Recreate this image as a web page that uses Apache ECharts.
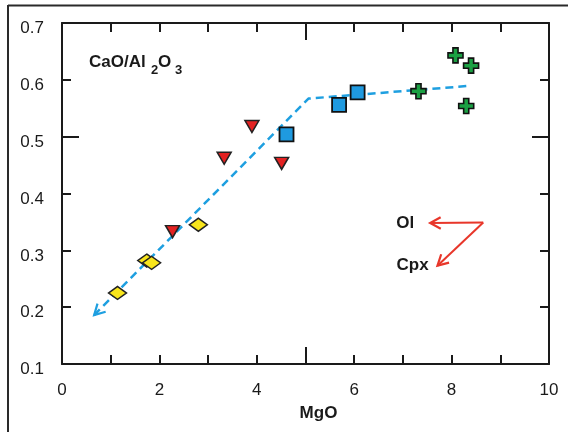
<!DOCTYPE html>
<html>
<head>
<meta charset="utf-8">
<script src="https://cdn.jsdelivr.net/npm/echarts@6/dist/echarts.min.js"></script>
<style>html,body{margin:0;padding:0;background:#fff}#c{width:568px;height:432px}</style>
</head>
<body>
<div id="c"></div>
<script>
// Data (MgO, CaO/Al2O3)
var diamonds = [[1.14, 0.225], [1.74, 0.282], [1.84, 0.278], [2.80, 0.345]];
var triangles = [[2.27, 0.333], [3.33, 0.462], [3.90, 0.518], [4.51, 0.453]];
var squares = [[4.61, 0.504], [5.69, 0.556], [6.07, 0.578]];
var crosses = [[7.32, 0.580], [8.08, 0.643], [8.40, 0.625], [8.30, 0.554]];
var trendLine = [[0.66, 0.186], [5.06, 0.567], [8.31, 0.589]];
var trendHead = [[1.30, 0.241, 0.66, 0.186]];
var redArrows = [[8.65, 0.349, 7.56, 0.348], [8.65, 0.349, 7.71, 0.273]];
var annotations = [[7.06, 0.346, 'Ol'], [7.21, 0.272, 'Cpx']];
var xTicks = [0, 2, 4, 6, 8, 10];
var yRange = [0.1, 0.7];
var longTicks = [[5, 0.5]]; // longer tick marks on x (MgO = 5) and y (0.5)

var FONT = '"Liberation Sans", Arial, sans-serif';
var INK = '#1a1a1a';

function arrowRender(color, drawShaft) {
  return function (params, api) {
    var p1 = api.coord([api.value(0), api.value(1)]);
    var p2 = api.coord([api.value(2), api.value(3)]);
    var ang = Math.atan2(p2[1] - p1[1], p2[0] - p1[0]);
    var L = 12, a = 0.5;
    var w1 = [p2[0] - L * Math.cos(ang - a), p2[1] - L * Math.sin(ang - a)];
    var w2 = [p2[0] - L * Math.cos(ang + a), p2[1] - L * Math.sin(ang + a)];
    var children = [];
    if (drawShaft) {
      children.push({type: 'line', shape: {x1: p1[0], y1: p1[1], x2: p2[0], y2: p2[1]},
        style: {stroke: color, lineWidth: 2}});
    }
    children.push({type: 'polyline', shape: {points: [w1, p2, w2]},
      style: {stroke: color, lineWidth: 2.2, fill: null}});
    return {type: 'group', children: children};
  };
}

function longTickRender(params, api) {
  var cs = params.coordSys;
  var p = api.coord([api.value(0), api.value(1)]);
  var L = 17, st = {stroke: INK, lineWidth: 2};
  var top = cs.y, bot = cs.y + cs.height, lft = cs.x, rgt = cs.x + cs.width;
  var xs = Math.round(p[0]), ys = Math.round(p[1]);
  return {type: 'group', children: [
    {type: 'line', shape: {x1: xs, y1: bot, x2: xs, y2: bot - L}, style: st},
    {type: 'line', shape: {x1: xs, y1: top, x2: xs, y2: top + L}, style: st},
    {type: 'line', shape: {x1: lft, y1: ys, x2: lft + L, y2: ys}, style: st},
    {type: 'line', shape: {x1: rgt, y1: ys, x2: rgt - L, y2: ys}, style: st}
  ]};
}

var plus = 'path://M3.3,0 H6.7 V3.3 H10 V6.7 H6.7 V10 H3.3 V6.7 H0 V3.3 H3.3 Z';

function mkX(pos, labels) {
  return {
    type: 'value', min: 0, max: 10, position: pos, interval: 1,
    axisLine: {show: true, onZero: false, lineStyle: {color: INK, width: 2}},
    axisTick: {show: true, inside: true, length: 9, lineStyle: {color: INK, width: 2}},
    axisLabel: labels ? {show: true, fontFamily: FONT, fontSize: 17, color: INK, margin: 18,
      formatter: function (v) { return xTicks.indexOf(v) >= 0 ? String(v) : ''; }} : {show: false},
    splitLine: {show: false}
  };
}
function mkY(pos, labels) {
  return {
    type: 'value', min: yRange[0], max: yRange[1], position: pos, interval: 0.1,
    axisLine: {show: true, onZero: false, lineStyle: {color: INK, width: 2}},
    axisTick: {show: true, inside: true, length: 9, lineStyle: {color: INK, width: 2}},
    axisLabel: labels ? {show: true, fontFamily: FONT, fontSize: 17, color: INK, margin: 18,
      verticalAlign: 'top', lineHeight: 11,
      formatter: function (v) { return v.toFixed(1); }} : {show: false},
    splitLine: {show: false}
  };
}

var xMain = mkX('bottom', true);
xMain.name = 'MgO';
xMain.nameLocation = 'middle';
xMain.nameGap = 41;
xMain.nameTextStyle = {fontFamily: FONT, fontSize: 17, fontWeight: 'bold', color: INK, padding: [0, 0, 0, 26]};

var titleMain = {fontFamily: FONT, fontSize: 17, fontWeight: 'bold', fill: INK};
var titleSub = {fontFamily: FONT, fontSize: 13, fontWeight: 'bold', fill: INK};

var chart = echarts.init(document.getElementById('c'), null, {renderer: 'canvas'});
chart.setOption({
  animation: false,
  backgroundColor: '#ffffff',
  grid: {left: 62, top: 23, right: 19, bottom: 68, containLabel: false},
  xAxis: [xMain, mkX('top', false)],
  yAxis: [mkY('left', true), mkY('right', false)],
  graphic: [
    {type: 'line', shape: {x1: 8, y1: 5.5, x2: 570, y2: 5.5}, style: {stroke: '#2a2a2a', lineWidth: 2}},
    {type: 'line', shape: {x1: 8, y1: 5, x2: 8, y2: 440}, style: {stroke: '#2a2a2a', lineWidth: 2}},
    {type: 'text', x: 89, y: 62, style: Object.assign({text: 'CaO/Al', verticalAlign: 'middle'}, titleMain)},
    {type: 'text', x: 151, y: 70, style: Object.assign({text: '2', verticalAlign: 'middle'}, titleSub)},
    {type: 'text', x: 158, y: 62, style: Object.assign({text: 'O', verticalAlign: 'middle'}, titleMain)},
    {type: 'text', x: 175, y: 70, style: Object.assign({text: '3', verticalAlign: 'middle'}, titleSub)}
  ],
  series: [
    {type: 'custom', renderItem: longTickRender, data: longTicks, z: 5, silent: true},
    {type: 'line', data: trendLine, symbol: 'none', silent: true, z: 1,
      lineStyle: {color: '#1e9fe0', width: 2.5, type: [8, 5]}},
    {type: 'custom', renderItem: arrowRender('#1e9fe0', false), data: trendHead, z: 1,
      encode: {x: [0, 2], y: [1, 3]}},
    {type: 'custom', renderItem: arrowRender('#e8362a', true), data: redArrows, z: 1,
      encode: {x: [0, 2], y: [1, 3]}},
    {type: 'scatter', data: diamonds, symbol: 'diamond', symbolSize: [18, 13], z: 3,
      itemStyle: {color: '#f8e51c', borderColor: '#222', borderWidth: 1.5, opacity: 1}},
    {type: 'scatter', data: triangles, symbol: 'triangle', symbolRotate: 180, symbolSize: [14, 12], z: 3,
      itemStyle: {color: '#e32222', borderColor: '#222', borderWidth: 1.5, opacity: 1}},
    {type: 'scatter', data: squares, symbol: 'rect', symbolSize: 14, z: 3,
      itemStyle: {color: '#1f9ae0', borderColor: '#111', borderWidth: 1.8, opacity: 1}},
    {type: 'scatter', data: crosses, symbol: plus, symbolSize: 15, z: 3,
      itemStyle: {color: '#1ba043', borderColor: '#111', borderWidth: 1.6, opacity: 1}},
    {type: 'scatter', data: annotations, symbol: 'circle', symbolSize: 1, z: 4,
      itemStyle: {color: '#ffffff', opacity: 1},
      label: {show: true, position: [0, 0], align: 'center', verticalAlign: 'middle',
        formatter: function (p) { return p.value[2]; },
        fontFamily: FONT, fontSize: 17, fontWeight: 'bold', color: INK, opacity: 1}}
  ]
});
</script>
</body>
</html>
